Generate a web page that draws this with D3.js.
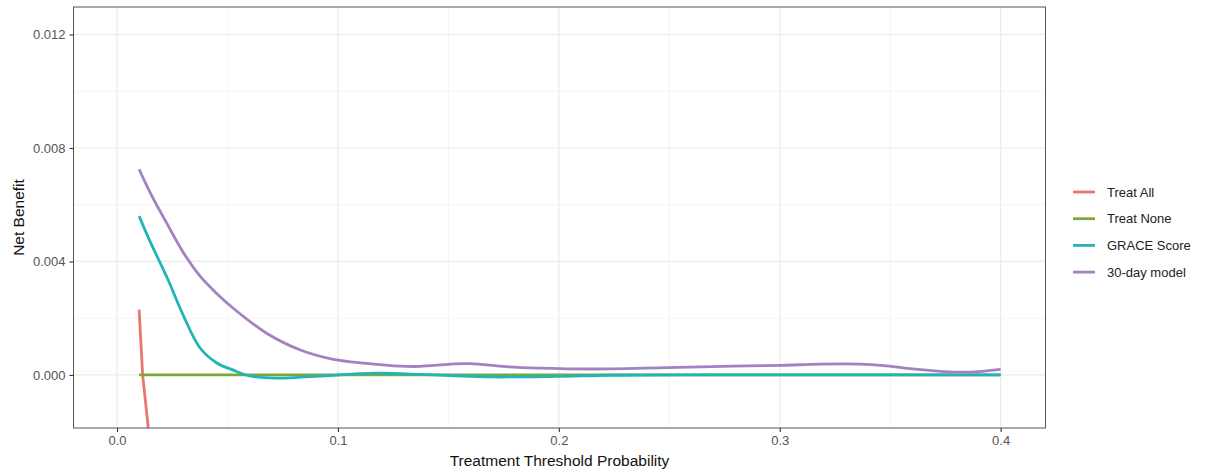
<!DOCTYPE html>
<html>
<head>
<meta charset="utf-8">
<script src="https://cdn.jsdelivr.net/npm/d3@7"></script>
<style>
  body { margin: 0; background: #fff; }
  text { font-family: "Liberation Sans", Arial, sans-serif; }
</style>
</head>
<body>
<svg id="chart" width="1205" height="474"></svg>
<script>
// values
const seriesNames = ["Treat All", "Treat None", "GRACE Score", "30-day model"]
const seriesColors = ["#E8766B", "#7CA83A", "#22B4B6", "#A381C4"]

const treatAll = [[0.010, 0.0023], [0.0116, 0.0], [0.0142, -0.0019], [0.016, -0.0037]]
const treatNone = [[0.010, 0.0], [0.400, 0.0]]
const grace = [
  [0.010, 0.0056], [0.015, 0.0047], [0.0225, 0.00346], [0.030, 0.0021],
  [0.0376, 0.00095], [0.045, 0.00043], [0.0526, 0.00017], [0.060, -0.00003],
  [0.072, -0.00011], [0.083, -0.00008], [0.090, -0.00005], [0.101, 0.0],
  [0.110, 0.00005], [0.120, 0.00006], [0.137, 0.00002], [0.151, -0.00002],
  [0.169, -0.00007], [0.199, -0.00005], [0.223, -0.00001], [0.260, 0.0],
  [0.330, 0.0], [0.400, 0.0]
]
const model30 = [
  [0.010, 0.00725], [0.015, 0.00643], [0.0225, 0.00535], [0.030, 0.00432],
  [0.0376, 0.00348], [0.045, 0.00288], [0.0526, 0.00235], [0.0677, 0.00147],
  [0.083, 0.00088], [0.098, 0.00055], [0.113, 0.00041], [0.128, 0.00031],
  [0.137, 0.0003], [0.151, 0.00038], [0.160, 0.0004], [0.176, 0.00029],
  [0.191, 0.00024], [0.214, 0.00021], [0.249, 0.00026], [0.279, 0.00031],
  [0.301, 0.00034], [0.318, 0.00038], [0.336, 0.00038], [0.347, 0.00033],
  [0.359, 0.00022], [0.374, 0.00012], [0.386, 0.0001], [0.400, 0.0002]
]
const xTicks = [0, 0.1, 0.2, 0.3, 0.4]
const xMinor = [0.05, 0.15, 0.25, 0.35]
const yTicks = [0, 0.004, 0.008, 0.012]
const yMinor = [0.002, 0.006, 0.010]

const allSeries = [treatAll, treatNone, grace, model30]

const margin = {left: 73.5, top: 7, right: 1205 - 1045.5, bottom: 474 - 428}
const width = 1205 - margin.left - margin.right
const height = 474 - margin.top - margin.bottom

const svg = d3.select("#chart")
const g = svg.append("g").attr("transform", `translate(${margin.left},${margin.top})`)

const x = d3.scaleLinear().domain([-0.0197, 0.4203]).range([0, width])
const y = d3.scaleLinear().domain([-0.00187, 0.01297]).range([height, 0])

// grid
g.selectAll(".xminor").data(xMinor).join("line")
  .attr("x1", d => x(d)).attr("x2", d => x(d)).attr("y1", 0).attr("y2", height)
  .attr("stroke", "#F2F2F2").attr("stroke-width", 0.8)
g.selectAll(".yminor").data(yMinor).join("line")
  .attr("y1", d => y(d)).attr("y2", d => y(d)).attr("x1", 0).attr("x2", width)
  .attr("stroke", "#F2F2F2").attr("stroke-width", 0.8)
g.selectAll(".xmajor").data(xTicks).join("line")
  .attr("x1", d => x(d)).attr("x2", d => x(d)).attr("y1", 0).attr("y2", height)
  .attr("stroke", "#EBEBEB").attr("stroke-width", 1.2)
g.selectAll(".ymajor").data(yTicks).join("line")
  .attr("y1", d => y(d)).attr("y2", d => y(d)).attr("x1", 0).attr("x2", width)
  .attr("stroke", "#EBEBEB").attr("stroke-width", 1.2)

// lines
g.append("clipPath").attr("id", "clip")
  .append("rect").attr("width", width).attr("height", height)

const line = d3.line().x(d => x(d[0])).y(d => y(d[1])).curve(d3.curveCatmullRom.alpha(0.5))
const lineStraight = d3.line().x(d => x(d[0])).y(d => y(d[1]))

g.append("g").attr("clip-path", "url(#clip)")
  .selectAll("path").data(allSeries).join("path")
  .attr("d", (d, i) => i < 2 ? lineStraight(d) : line(d))
  .attr("fill", "none")
  .attr("stroke", (d, i) => seriesColors[i])
  .attr("stroke-width", 2.8)
  .attr("stroke-linejoin", "round")

// panel border
g.append("rect").attr("width", width).attr("height", height)
  .attr("fill", "none").attr("stroke", "#555").attr("stroke-width", 1)

// axes
const xAxis = g.append("g").attr("transform", `translate(0,${height})`)
  .call(d3.axisBottom(x).tickValues(xTicks).tickFormat(d3.format(".1f")).tickSize(4).tickPadding(4))
const yAxis = g.append("g")
  .call(d3.axisLeft(y).tickValues(yTicks).tickFormat(d3.format(".3f")).tickSize(4).tickPadding(4))
for (const ax of [xAxis, yAxis]) {
  ax.select(".domain").remove()
  ax.selectAll(".tick line").attr("stroke", "#333").attr("stroke-width", 1.1)
  ax.selectAll(".tick text").attr("fill", "#555").attr("font-size", 13)
    .attr("font-family", "Liberation Sans, Arial, sans-serif")
}

// axis titles
svg.append("text")
  .attr("x", margin.left + width / 2).attr("y", 466)
  .attr("text-anchor", "middle").attr("font-size", 15.5).attr("fill", "#111")
  .text("Treatment Threshold Probability")
svg.append("text")
  .attr("transform", `translate(24,${margin.top + height / 2}) rotate(-90)`)
  .attr("text-anchor", "middle").attr("font-size", 15.5).attr("fill", "#111")
  .text("Net Benefit")

// legend
const legend = svg.append("g").attr("transform", "translate(1073,192)")
const item = legend.selectAll("g").data(seriesNames).join("g")
  .attr("transform", (d, i) => `translate(0,${i * 26.7})`)
item.append("line").attr("x1", 0).attr("x2", 22)
  .attr("stroke", (d, i) => seriesColors[i]).attr("stroke-width", 2.8)
item.append("text").attr("x", 34).attr("dy", "0.35em")
  .attr("font-size", 13).attr("fill", "#222").text(d => d)
</script>
</body>
</html>
